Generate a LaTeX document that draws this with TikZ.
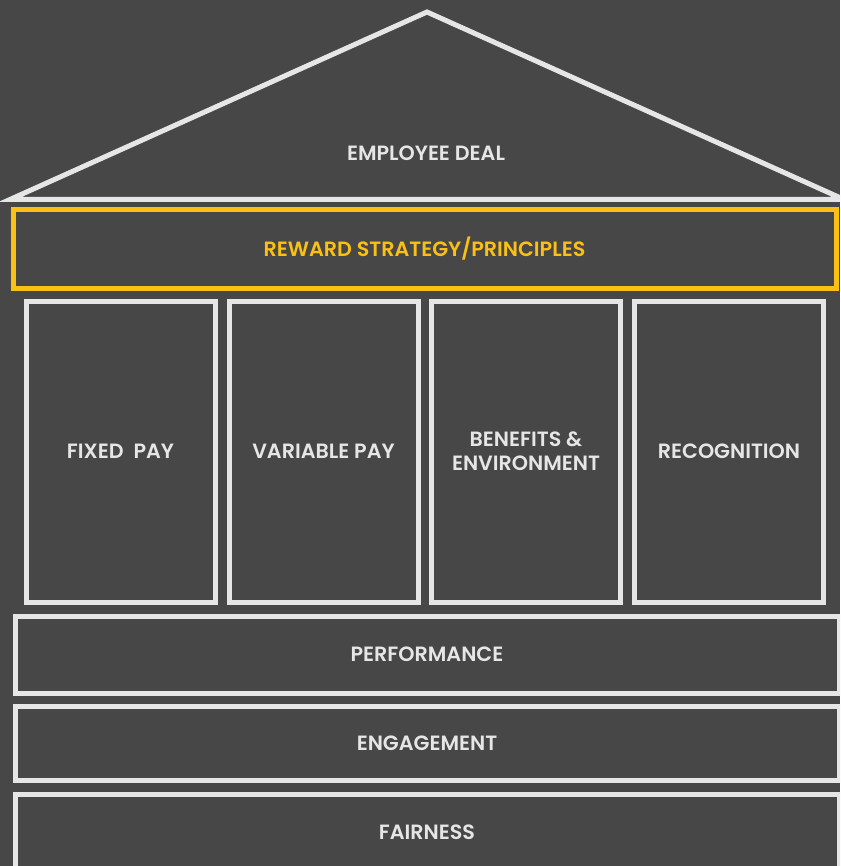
\documentclass[tikz,border=0pt]{standalone}
\usepackage{fontspec}
\setmainfont{Poppins}[BoldFont={Poppins SemiBold}]

\definecolor{slate}{RGB}{71,71,71}
\definecolor{chalk}{RGB}{230,230,230}
\definecolor{gold}{RGB}{250,192,20}

\begin{document}
\begin{tikzpicture}[x=0.75pt,y=0.75pt,yscale=-1,xscale=1,
  lbl/.style={text=chalk,font=\fontsize{15.5}{18}\selectfont\bfseries,align=center,inner sep=0pt},
  pillar/.style={draw=chalk,line width=3.75pt,minimum width=141.75pt,minimum height=225.75pt,lbl},
  band/.style={draw=chalk,line width=3.75pt,minimum width=618pt,minimum height=57.75pt,lbl}]
%page is 840 x 866, everything outside is cut off
\useasboundingbox (0,0) rectangle (840,866);
\clip (0,0) rectangle (840,866);
\fill[slate] (0,0) rectangle (840,866);

%Shape: Roof
\draw[chalk,line width=3.75pt,line join=miter] (10,199.5) -- (427,12) -- (844,199.5) -- cycle;
\node[lbl] (deal) at (426,153) {EMPLOYEE DEAL};

%Shape: Strategy bar
\node[lbl,draw=gold,text=gold,line width=3.75pt,minimum width=617.25pt,minimum height=58.5pt] (strategy) at (424.5,249) {REWARD STRATEGY/PRINCIPLES};

%Pillars
\node[pillar] (fixed) at (120.5,451.5) {FIXED\ \ PAY};
\node[pillar] (variable) at (323.5,451.5) {VARIABLE PAY};
\node[pillar] (benefits) at (526,451.5) {BENEFITS \&\\ENVIRONMENT};
\node[pillar] (recognition) at (729,451.5) {RECOGNITION};

%Foundation bands
\node[band] (performance) at (427,654.5) {PERFORMANCE};
\node[band,minimum height=55.9pt] (engagement) at (427,743.5) {ENGAGEMENT};
\node[band] (fairness) at (427,832.5) {FAIRNESS};

\end{tikzpicture}
\end{document}
